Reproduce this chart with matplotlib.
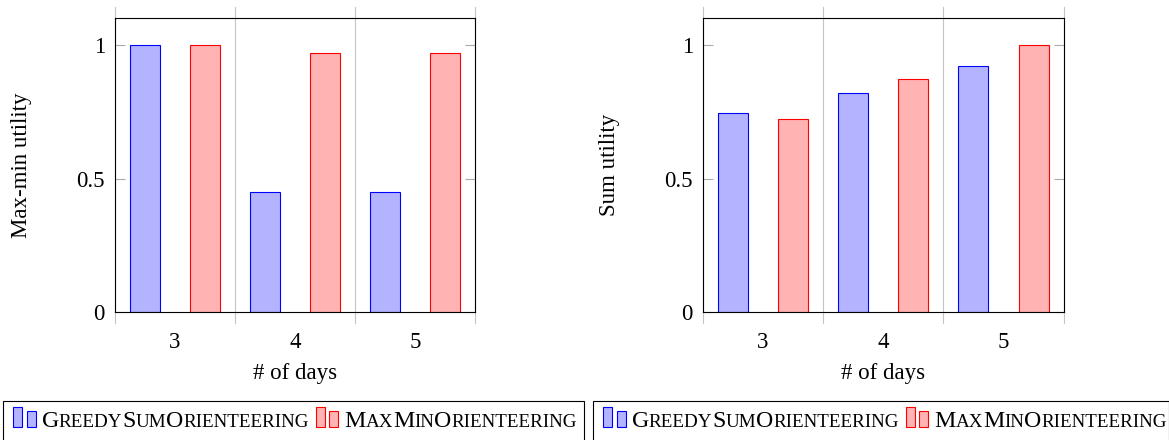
import matplotlib
matplotlib.use('Agg')
import matplotlib.pyplot as plt
from matplotlib.patches import Rectangle
from matplotlib.transforms import IdentityTransform, blended_transform_factory
import numpy as np

# ---- data ----
days = [3, 4, 5]
maxmin_greedy = [1.0, 0.45, 0.45]
maxmin_mmo = [1.0, 0.97, 0.97]
sum_greedy = [0.745, 0.82, 0.92]
sum_mmo = [0.725, 0.872, 1.0]
series_names = ["GreedySumOrienteering", "MaxMinOrienteering"]
ylabels = ["Max-min utility", "Sum utility"]
xlabel = "# of days"
yticks = [0, 0.5, 1]
ytick_labels = ["0", "0.5", "1"]

plt.rcParams['font.family'] = ['Liberation Serif', 'DejaVu Serif']
FS = 16.5

W, H = 1169, 440
fig = plt.figure(figsize=(W / 100, H / 100), dpi=100)


def px_axes(x0, x1, ytop, ybot):
    return fig.add_axes([x0 / W, (H - ybot) / H, (x1 - x0) / W, (ybot - ytop) / H])


axes = [px_axes(114.7, 475, 18.3, 312.3), px_axes(702.7, 1063.7, 18.3, 312.3)]
data = [(maxmin_greedy, maxmin_mmo), (sum_greedy, sum_mmo)]
BW = 0.25
blue_fill = '#b3b3ff'
red_fill = '#ffb3b3'

for ax, (g, m), yl in zip(axes, data, ylabels):
    x = np.array(days, dtype=float)
    ax.set_xlim(days[0] - 0.5, days[-1] + 0.5)
    ax.set_ylim(0, 1.1)
    ax.bar(x - 0.25, g, BW, color=blue_fill, edgecolor='blue', linewidth=0.8, zorder=3)
    ax.bar(x + 0.25, m, BW, color=red_fill, edgecolor='red', linewidth=0.8, zorder=3)
    ax.set_xticks(days)
    ax.set_xticklabels([str(d) for d in days])
    ax.set_yticks(yticks)
    ax.set_yticklabels(ytick_labels)
    ax.tick_params(axis='x', length=0, pad=14.5, labelsize=FS)
    ax.tick_params(axis='y', direction='in', length=7.2, width=0.8, color='#aaaaaa',
                   left=True, right=True, pad=7.0, labelsize=FS)
    tr = blended_transform_factory(ax.transData, ax.transAxes)
    ext = 11 / 294
    for b in np.arange(days[0] - 0.5, days[-1] + 0.6, 1.0):
        ax.plot([b, b], [-ext, 1 + ext], transform=tr, color='#c4c4c4', lw=0.8,
                clip_on=False, zorder=1)
    for s in ax.spines.values():
        s.set_linewidth(0.8)
        s.set_color('black')
        s.set_zorder(4)
    ax.set_ylabel(yl, fontsize=FS)
    ax.yaxis.set_label_coords(-0.2295, 0.5)
    ax.set_xlabel(xlabel, fontsize=FS)
    ax.xaxis.set_label_coords(0.5, -0.1724)

# ---- legends (drawn manually, small caps emulated) ----
renderer = fig.canvas.get_renderer()
ID = IdentityTransform()
BIG, SMALL = 17.2, 13.7


def smallcaps(x, y, text):
    runs = []
    for ch in text:
        up = ch.isupper()
        if runs and runs[-1][0] == up:
            runs[-1][1] += ch
        else:
            runs.append([up, ch])
    for up, s in runs:
        t = fig.text(x, y, s if up else s.upper(), fontsize=BIG if up else SMALL,
                     transform=ID, ha='left', va='baseline')
        bb = t.get_window_extent(renderer)
        x = bb.x1
    return x


def icon(x0, fill, edge):
    fig.add_artist(Rectangle((x0, 13.3), 9, 19.4, transform=ID, fc=fill, ec=edge, lw=0.8))
    fig.add_artist(Rectangle((x0 + 13.4, 13.3), 9, 15.4, transform=ID, fc=fill, ec=edge, lw=0.8))


for off, wbox in [(0, 581), (590, 575.5)]:
    fig.add_artist(Rectangle((3.3 + off, -10), wbox, 48.7, transform=ID, fill=False,
                             ec='black', lw=0.8))
    icon(13.3 + off, blue_fill, 'blue')
    end = smallcaps(41.7 + off, 13.5, series_names[0])
    x2 = end + 6.5
    icon(x2, red_fill, 'red')
    smallcaps(x2 + 28.4, 13.5, series_names[1])

fig.savefig('out.png', dpi=100)
